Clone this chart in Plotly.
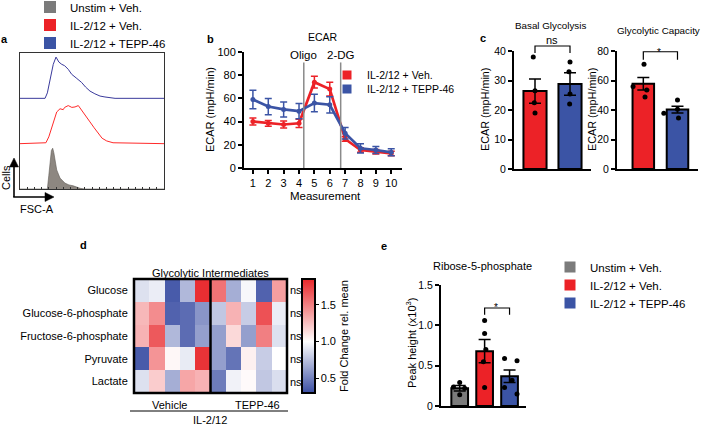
import plotly.graph_objects as go

W, H = 701, 429
def PX(x): return x / W
def PY(y): return 1 - y / H

FONT = "Liberation Sans, Arial, Helvetica, sans-serif"
RED = "#ec2227"
BLUE = "#3b54a5"
GRAY = "#7b7b7b"
HBLUE = "#3a3a9c"
HRED = "#ff2a2a"
HGRAY = "#8d8781"

# ---------------- data ----------------
groups = ["Unstim + Veh.", "IL-2/12 + Veh.", "IL-2/12 + TEPP-46"]

# (a) FSC-A histograms (normalised counts per lane)
fsc_gray_x = [0, 19, 20, 20.8, 21.8, 22.7, 23.5, 25.5, 27.8, 31.2, 34, 37, 41.7, 45, 100]
fsc_gray_h = [0, 0, 0.30, 0.64, 0.85, 0.90, 0.80, 0.42, 0.24, 0.13, 0.09, 0.07, 0.015, 0, 0]
fsc_red_x = [0, 18, 20, 22, 24, 25.5, 27.8, 30, 31, 33.5, 36, 38.2, 40.5, 42.8, 45.5, 48.6, 51.5, 54.4, 57, 60.2, 64.6, 100]
fsc_red_h = [0, 0.02, 0.15, 0.37, 0.58, 0.70, 0.77, 0.75, 0.80, 0.84, 0.80, 0.81, 0.84, 0.73, 0.62, 0.48, 0.35, 0.22, 0.12, 0.06, 0.02, 0]
fsc_blue_x = [0, 17.4, 19, 20.8, 23.1, 25, 27, 29, 31, 33.5, 35.9, 39, 42.8, 45.5, 48.6, 52, 55.6, 59, 62.5, 66, 100]
fsc_blue_h = [0, 0, 0.12, 0.38, 0.75, 0.91, 0.80, 0.75, 0.72, 0.64, 0.53, 0.45, 0.35, 0.25, 0.16, 0.10, 0.05, 0.03, 0.015, 0, 0]
lane_offset = [0, 1, 2]

# (b) ECAR time course
measurement = [1, 2, 3, 4, 5, 6, 7, 8, 9, 10]
ecar_veh = [40, 38.5, 37.5, 38.5, 74, 68, 25, 15.5, 14, 12.5]
ecar_veh_sem = [3, 2.5, 3, 3.5, 5, 6, 2, 2, 2, 2]
ecar_tepp = [59, 53, 50.5, 49, 56, 54.5, 30, 17, 15.5, 13.5]
ecar_tepp_sem = [8, 7, 6.5, 6.5, 7.5, 7, 5, 4, 3, 3]
injections = ["Oligo", "2-DG"]
injection_pos = [4.31, 6.71]

# (c) basal glycolysis / glycolytic capacity
basal_mean = [26.4, 28.8]
basal_sem = [4.1, 3.8]
basal_pts = [[38, 26.5, 22.5, 19], [36.3, 33, 25.4, 22]]
basal_jit = [[-0.05, 0.0, -0.02, 0.0], [0.0, -0.03, 0.0, -0.01]]
capacity_mean = [57.8, 40.3]
capacity_sem = [4.2, 2.3]
capacity_pts = [[71, 56, 53.5, 48.8], [46.8, 40.5, 37.8, 34.5]]
capacity_jit = [[0.02, -0.3, 0.1, 0.05], [0.0, 0.0, -0.4, 0.03]]

# (d) glycolytic intermediates (fold change rel. mean)
metabolites = ["Glucose", "Glucose-6-phosphate", "Fructose-6-phosphate", "Pyruvate", "Lactate"]
fold_change = [
    [0.88, 0.93, 0.35, 0.72, 1.82, 1.55, 0.68, 0.97, 0.38, 1.38],
    [1.28, 1.45, 0.38, 0.42, 0.58, 0.78, 1.30, 0.80, 1.68, 0.93],
    [1.30, 1.65, 0.72, 0.42, 0.62, 0.62, 1.15, 0.62, 1.50, 0.88],
    [0.35, 1.42, 1.03, 0.92, 1.80, 0.62, 0.45, 1.06, 0.80, 1.00],
    [0.88, 1.20, 0.68, 1.35, 1.30, 0.48, 0.95, 1.02, 0.78, 0.87],
]
samples = list(range(10))

# (e) ribose-5-phosphate
ribose_mean = [0.22, 0.68, 0.368]
ribose_sem = [0.035, 0.145, 0.078]
ribose_pts = [[0.29, 0.235, 0.22, 0.14], [1.06, 0.9, 0.7, 0.55, 0.23], [0.59, 0.56, 0.32, 0.23, 0.15]]
ribose_jit = [[0.0, -0.25, 0.2, 0.0], [0.0, 0.0, 0.05, -0.05, 0.0], [-0.2, 0.3, 0.1, -0.2, 0.3]]

# ---------------- figure ----------------
fig = go.Figure()

def tfont(size):
    return dict(family=FONT, size=size, color="black")

# legends: one legend per entry so each row sits where the reference puts it
legend_rows = {
    "a": dict(text_x=68, ys=[7, 25, 43], size=11.5, sym=12),
    "b": dict(text_x=365, ys=[75, 89], size=10.5, sym=9),
    "e": dict(text_x=588, ys=[267, 285, 303], size=11.5, sym=11),
}
legend_layout = {}
legend_ids = []
n = 0
for key in ["a", "b", "e"]:
    spec = legend_rows[key]
    ids = []
    for yv in spec["ys"]:
        n += 1
        lid = "legend" if n == 1 else f"legend{n}"
        legend_layout[lid] = dict(x=PX(spec["text_x"] - 38), y=PY(yv), xanchor="left", yanchor="middle",
                                  bgcolor="rgba(0,0,0,0)", borderwidth=0, font=tfont(spec["size"]),
                                  itemclick=False, itemdoubleclick=False)
        ids.append(lid)
    legend_ids.append(ids)

# (a)
for xs, hs, off, lc, fill in [
    (fsc_gray_x, fsc_gray_h, lane_offset[0], "#5f5a55", HGRAY),
    (fsc_red_x, fsc_red_h, lane_offset[1], HRED, None),
    (fsc_blue_x, fsc_blue_h, lane_offset[2], HBLUE, None),
]:
    fig.add_trace(go.Scatter(
        x=xs, y=[h + off for h in hs], mode="lines",
        line=dict(color=lc, width=1 if fill is None else 0.6),
        fill="tozeroy" if fill else None, fillcolor=fill,
        showlegend=False, xaxis="x", yaxis="y", hoverinfo="skip"))
for name, col, lid in zip(groups, [GRAY, RED, BLUE], legend_ids[0]):
    fig.add_trace(go.Scatter(x=[None], y=[None], mode="markers", name=name,
                             marker=dict(symbol="square", size=legend_rows["a"]["sym"], color=col),
                             legend=lid, xaxis="x", yaxis="y"))

# (b)
for ys, es, col in [(ecar_veh, ecar_veh_sem, RED), (ecar_tepp, ecar_tepp_sem, BLUE)]:
    fig.add_trace(go.Scatter(
        x=measurement, y=ys, mode="lines+markers",
        line=dict(color=col, width=2.7), marker=dict(color=col, size=5),
        error_y=dict(type="data", array=es, color=col, thickness=1.5, width=3.5),
        showlegend=False, xaxis="x2", yaxis="y2"))
for name, col, lid in zip(groups[1:], [RED, BLUE], legend_ids[1]):
    fig.add_trace(go.Scatter(x=[None], y=[None], mode="markers", name=name,
                             marker=dict(symbol="square", size=legend_rows["b"]["sym"], color=col),
                             legend=lid, xaxis="x2", yaxis="y2"))

# (c)
def bar_panel(means, sems, pts, jit, cols, xa, ya, width):
    for i, (m, s, p, j, c) in enumerate(zip(means, sems, pts, jit, cols)):
        fig.add_trace(go.Bar(
            x=[i], y=[m], width=width, marker=dict(color=c, line=dict(color="black", width=2)),
            error_y=dict(type="data", array=[s], color="black", thickness=1.5, width=6),
            showlegend=False, xaxis=xa, yaxis=ya))
        fig.add_trace(go.Scatter(
            x=[i + d for d in j], y=p, mode="markers",
            marker=dict(color="black", size=5), showlegend=False,
            xaxis=xa, yaxis=ya, cliponaxis=False))

bar_panel(basal_mean, basal_sem, basal_pts, basal_jit, [RED, BLUE], "x3", "y3", 0.66)
bar_panel(capacity_mean, capacity_sem, capacity_pts, capacity_jit, [RED, BLUE], "x4", "y4", 0.63)

# (d)
zmin, zmax = 0.3, 1.85
wpos = (1.0 - zmin) / (zmax - zmin)
fig.add_trace(go.Heatmap(
    z=fold_change, x=samples, y=metabolites, zmin=zmin, zmax=zmax,
    colorscale=[[0, "#3a4ea3"], [wpos, "#ffffff"], [1, "#e8262a"]],
    xaxis="x5", yaxis="y5", hoverinfo="skip",
    colorbar=dict(x=PX(302), xanchor="left", y=PY(336), yanchor="middle",
                  len=114 / H, lenmode="fraction", thickness=13, thicknessmode="pixels",
                  outlinewidth=2, outlinecolor="black", xpad=0, ypad=0,
                  tickvals=[0.5, 1.0, 1.5], ticktext=["0.5", "1.0", "1.5"],
                  ticks="outside", ticklen=3, tickcolor="black", tickfont=tfont(11),
                  title=dict(text="Fold Change rel. mean", side="right", font=tfont(11)))))

# (e)
bar_panel(ribose_mean, ribose_sem, ribose_pts, ribose_jit, [GRAY, RED, BLUE], "x6", "y6", 0.67)
for name, col, lid in zip(groups, [GRAY, RED, BLUE], legend_ids[2]):
    fig.add_trace(go.Scatter(x=[None], y=[None], mode="markers", name=name,
                             marker=dict(symbol="square", size=legend_rows["e"]["sym"], color=col),
                             legend=lid, xaxis="x6", yaxis="y6"))

# ---------------- axes ----------------
def lin_axis(size=11, **kw):
    d = dict(showline=True, linecolor="black", linewidth=2, ticks="outside",
             ticklen=4, tickwidth=1.5, tickcolor="black", tickfont=tfont(size),
             showgrid=False, zeroline=False, fixedrange=True)
    d.update(kw)
    return d

layout = dict(
    width=W, height=H, margin=dict(l=0, r=0, t=0, b=0, autoexpand=False),
    paper_bgcolor="white", plot_bgcolor="rgba(0,0,0,0)",
    font=dict(family=FONT, size=11, color="black"),
    barmode="overlay", showlegend=True,
    # (a)
    xaxis=dict(domain=[PX(20), PX(164)], range=[0, 100], showline=True, mirror=True,
               linecolor="#333", linewidth=1, ticks="inside", ticklen=2, dtick=5,
               tickcolor="#333", showticklabels=False, showgrid=False, zeroline=False),
    yaxis=dict(domain=[PY(189), PY(53)], range=[0, 3], showline=True, mirror=True,
               linecolor="#333", linewidth=1, ticks="", showticklabels=False,
               showgrid=False, zeroline=False),
    # (b)
    xaxis2=lin_axis(11, domain=[PX(244), PX(402)], range=[0.42, 10.7], tickvals=measurement, anchor="y2"),
    yaxis2=lin_axis(11, domain=[PY(168), PY(52)], range=[0, 100], dtick=20, anchor="x2"),
    # (c)
    xaxis3=lin_axis(10, domain=[PX(514), PX(591)], range=[-0.6, 1.6], ticks="", showticklabels=False, anchor="y3"),
    yaxis3=lin_axis(10.5, domain=[PY(169), PY(51)], range=[0, 40], dtick=10, anchor="x3"),
    xaxis4=lin_axis(10, domain=[PX(617), PX(698)], range=[-0.77, 1.6], ticks="", showticklabels=False, anchor="y4"),
    yaxis4=lin_axis(10.5, domain=[PY(169), PY(51)], range=[0, 80], dtick=20, anchor="x4"),
    # (d)
    xaxis5=dict(domain=[PX(134), PX(287)], range=[-0.5, 9.5], showticklabels=False,
                showgrid=False, zeroline=False, ticks="", anchor="y5"),
    yaxis5=dict(domain=[PY(393), PY(279)], autorange="reversed", showgrid=False, zeroline=False,
                ticks="outside", ticklen=3, tickcolor="rgba(0,0,0,0)", tickfont=tfont(11), anchor="x5"),
    # (e)
    xaxis6=lin_axis(10.5, domain=[PX(441), PX(526)], range=[-0.75, 2.66], ticks="", showticklabels=False, anchor="y6"),
    yaxis6=lin_axis(10.5, domain=[PY(406), PY(285)], range=[0, 1.5], tickvals=[0, 0.5, 1.0, 1.5],
                    ticktext=["0", "0.5", "1.0", "1.5"], anchor="x6"),
)
layout.update(legend_layout)
fig.update_layout(**layout)

# ---------------- shapes ----------------
shapes = []
for p in injection_pos:
    shapes.append(dict(type="line", xref="x2", yref="y2", x0=p, x1=p, y0=0, y1=91,
                       line=dict(color="#8a8a8a", width=1.5)))

def dom(v, r):
    return (v - r[0]) / (r[1] - r[0])

def bracket(xa, ya, xr, yr, x0, x1, ytop, drop):
    fx0, fx1 = dom(x0, xr), dom(x1, xr)
    ft, fb = dom(ytop, yr), dom(ytop - drop, yr)
    shapes.append(dict(type="path", xref=xa + " domain", yref=ya + " domain",
                       path=f"M{fx0},{fb} L{fx0},{ft} L{fx1},{ft} L{fx1},{fb}",
                       line=dict(color="black", width=1.2)))

bracket("x3", "y3", [-0.6, 1.6], [0, 40], 0, 1, 41.7, 2.4)
bracket("x4", "y4", [-0.77, 1.6], [0, 80], 0, 1, 79.5, 5.5)
bracket("x6", "y6", [-0.75, 2.66], [0, 1.5], 1, 2, 1.215, 0.085)

shapes.append(dict(type="rect", xref="x5 domain", yref="y5 domain", x0=0, x1=1, y0=0, y1=1,
                   line=dict(color="black", width=2.5)))
shapes.append(dict(type="line", xref="x5 domain", yref="y5 domain", x0=0.5, x1=0.5, y0=0, y1=1,
                   line=dict(color="black", width=2.5)))
shapes.append(dict(type="line", xref="paper", yref="paper", x0=PX(130), x1=PX(288),
                   y0=PY(411), y1=PY(411), line=dict(color="black", width=1)))

# FSC-A / Cells axis arrows (a)
def pline(x0, y0, x1, y1, w=1.6):
    shapes.append(dict(type="line", xref="paper", yref="paper", x0=PX(x0), y0=PY(y0),
                       x1=PX(x1), y1=PY(y1), line=dict(color="black", width=w)))
def ptri(pts):
    path = "M" + " L".join(f"{PX(a)},{PY(b)}" for a, b in pts) + " Z"
    shapes.append(dict(type="path", xref="paper", yref="paper", path=path,
                       fillcolor="black", line=dict(color="black", width=0.5)))
pline(14, 197, 14, 165)
ptri([(14, 158), (9.5, 167), (18.5, 167)])
pline(13.2, 197, 46, 197)
ptri([(54, 197), (45, 192.5), (45, 201.5)])
fig.update_layout(shapes=shapes)

# ---------------- annotations ----------------
ann = []
def txt(x, y, s, size=11, bold=False, angle=0, xanchor="center", yanchor="middle"):
    ann.append(dict(x=PX(x), y=PY(y), xref="paper", yref="paper", text=f"<b>{s}</b>" if bold else s,
                    showarrow=False, font=tfont(size),
                    textangle=angle, xanchor=xanchor, yanchor=yanchor))

txt(4, 39, "a", 11, True)
txt(210, 39, "b", 11, True)
txt(483, 38, "c", 11, True)
txt(83, 245, "d", 11, True)
txt(384, 246, "e", 11, True)

txt(323, 37, "ECAR", 10.5)
txt(550, 26, "Basal Glycolysis", 9.8)
txt(658, 31, "Glycolytic Capacity", 9.8)
txt(210, 273, "Glycolytic Intermediates", 11)
txt(482, 266, "Ribose-5-phosphate", 11)

# axis titles
txt(325, 196, "Measurement", 11.5)
txt(210, 110, "ECAR (mpH/min)", 11, angle=-90)
txt(485, 110, "ECAR (mpH/min)", 10.8, angle=-90)
txt(592, 110, "ECAR (mpH/min)", 10.8, angle=-90)
txt(411, 343, "Peak height (x10<sup>3</sup>)", 11, angle=-90)

for name, p in zip(injections, injection_pos):
    ann.append(dict(x=p, y=91, xref="x2", yref="y2", text=name, showarrow=False,
                    font=tfont(11.5), yanchor="bottom", yshift=-1))

txt(552, 40, "ns", 11)
txt(659, 52, "*", 10)
txt(496, 307, "*", 10)

for m in metabolites:
    ann.append(dict(x=1.0, y=m, xref="x5 domain", yref="y5", text="ns", showarrow=False,
                    font=tfont(11), xanchor="left", xshift=1))

txt(169, 405, "Vehicle", 11)
txt(257, 405, "TEPP-46", 11)
txt(210, 420, "IL-2/12", 11)

txt(6, 178, "Cells", 11, angle=-90)
txt(37, 209, "FSC-A", 11)
fig.update_layout(annotations=ann)

fig.write_html("out.html", config={"displayModeBar": False},
               post_script="document.body.style.margin='0';")
